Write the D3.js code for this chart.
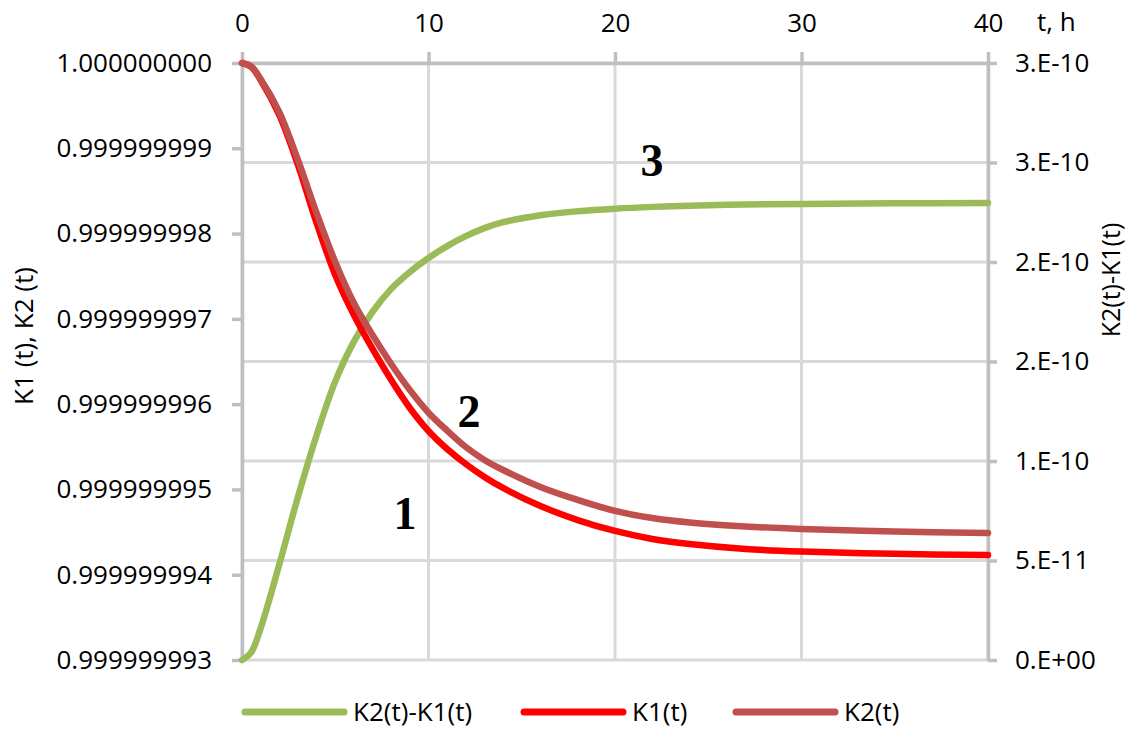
<!DOCTYPE html>
<html>
<head>
<meta charset="utf-8">
<script src="https://cdn.jsdelivr.net/npm/d3@7"></script>
<style>
  body { margin: 0; background: #fff; }
  svg text { font-family: "Open Sans", sans-serif; fill: #000; }
</style>
</head>
<body>
<svg id="chart" width="1129" height="731"></svg>
<script>
// time, h
const tValues = [0, 0.5, 1, 2, 3, 4, 5, 6, 7, 8, 9, 10, 11, 12, 13, 14, 16, 18, 20, 22, 24, 27, 30, 35, 40];
// K1(t) - curve 1
const k1Values = [
  1.000000000000, 0.999999999955, 0.999999999801, 0.999999999390, 0.999999998804, 0.999999998124,
  0.999999997514, 0.999999997045, 0.999999996647, 0.999999996283, 0.999999995955,
  0.999999995685, 0.999999995474, 0.999999995298, 0.999999995146, 0.999999995017,
  0.999999994806, 0.999999994641, 0.999999994513, 0.999999994419, 0.999999994360,
  0.999999994302, 0.999999994272, 0.999999994245, 0.999999994231
];
// K2(t) - curve 2
const k2Values = [
  1.000000000000, 0.999999999957, 0.999999999812, 0.999999999425, 0.999999998863, 0.999999998241,
  0.999999997667, 0.999999997186, 0.999999996811, 0.999999996471, 0.999999996165,
  0.999999995900, 0.999999995690, 0.999999995498, 0.999999995346, 0.999999995228,
  0.999999995029, 0.999999994877, 0.999999994748, 0.999999994665, 0.999999994613,
  0.999999994566, 0.999999994536, 0.999999994507, 0.999999994489
];
// K2(t)-K1(t) - curve 3, right axis
const diffValues = [
  0, 0.04e-10, 0.16e-10, 0.48e-10, 0.82e-10, 1.13e-10, 1.40e-10, 1.60e-10, 1.75e-10, 1.865e-10, 1.95e-10,
  2.02e-10, 2.08e-10, 2.13e-10, 2.17e-10, 2.20e-10, 2.235e-10, 2.255e-10, 2.268e-10, 2.277e-10,
  2.283e-10, 2.289e-10, 2.292e-10, 2.295e-10, 2.296e-10
];

const xTicks = [0, 10, 20, 30, 40];
const leftTicks = [0.999999993, 0.999999994, 0.999999995, 0.999999996, 0.999999997, 0.999999998, 0.999999999, 1.0];
const rightTicks = [0, 5e-11, 1e-10, 1.5e-10, 2e-10, 2.5e-10, 3e-10];
const rightTickLabels = ['0.E+00', '5.E-11', '1.E-10', '2.E-10', '2.E-10', '3.E-10', '3.E-10'];
const seriesNames = ['K2(t)-K1(t)', 'K1(t)', 'K2(t)'];
const seriesColors = ['#9bbb59', '#ff0000', '#c0504d'];

const svg = d3.select('#chart');
const margin = {top: 63, left: 242, right: 141, bottom: 71};
const width = 1129 - margin.left - margin.right;
const height = 731 - margin.top - margin.bottom;

const x = d3.scaleLinear().domain([0, 40]).range([0, width]);
const yLeft = d3.scaleLinear().domain([0.999999993, 1.0]).range([height, 0]);
const yRight = d3.scaleLinear().domain([0, 3e-10]).range([height, 0]);

const g = svg.append('g').attr('transform', 'translate(' + margin.left + ',' + margin.top + ')');

// grid
const grid = g.append('g');
grid.selectAll('.hgrid').data(rightTicks).enter().append('line')
  .attr('x1', 0).attr('x2', width)
  .attr('y1', d => yRight(d)).attr('y2', d => yRight(d))
  .attr('stroke', '#d9d9d9').attr('stroke-width', 3);
grid.selectAll('.vgrid').data(xTicks).enter().append('line')
  .attr('x1', d => x(d)).attr('x2', d => x(d))
  .attr('y1', 0).attr('y2', height)
  .attr('stroke', '#d9d9d9').attr('stroke-width', 3);

function styleAxis(sel) {
  sel.selectAll('path.domain').attr('stroke', '#bfbfbf').attr('stroke-width', 3.5);
  sel.selectAll('.tick line').attr('stroke', '#bfbfbf').attr('stroke-width', 3.5);
  sel.selectAll('.tick text').attr('font-size', 26).attr('font-family', '"Open Sans", sans-serif');
}

const axisTop = d3.axisTop(x).tickValues(xTicks).tickFormat(d3.format('d'))
  .tickSizeInner(11).tickSizeOuter(0).tickPadding(20);
g.append('g').call(axisTop).call(styleAxis);

const axisLeft = d3.axisLeft(yLeft).tickValues(leftTicks).tickFormat(d3.format('.9f'))
  .tickSizeInner(10).tickSizeOuter(0).tickPadding(20);
g.append('g').call(axisLeft).call(styleAxis);

const axisRight = d3.axisRight(yRight).tickValues(rightTicks)
  .tickFormat((d, i) => rightTickLabels[i])
  .tickSizeInner(9).tickSizeOuter(0).tickPadding(18);
g.append('g').attr('transform', 'translate(' + width + ',0)').call(axisRight).call(styleAxis);

// series
const smooth = d3.curveCatmullRom.alpha(0.5);
const lineLeft = d3.line().curve(smooth)
  .x((d, i) => x(tValues[i])).y(d => yLeft(d));
const lineRight = d3.line().curve(smooth)
  .x((d, i) => x(tValues[i])).y(d => yRight(d));

g.append('path').attr('d', lineRight(diffValues)).attr('fill', 'none')
  .attr('stroke', seriesColors[0]).attr('stroke-width', 6.5).attr('stroke-linecap', 'round');
g.append('path').attr('d', lineLeft(k1Values)).attr('fill', 'none')
  .attr('stroke', seriesColors[1]).attr('stroke-width', 6.5).attr('stroke-linecap', 'round');
g.append('path').attr('d', lineLeft(k2Values)).attr('fill', 'none')
  .attr('stroke', seriesColors[2]).attr('stroke-width', 6.5).attr('stroke-linecap', 'round');

// curve numbers
const curveMarks = [
  {text: '1', t: 8.74, k: 0.999999994536},
  {text: '2', t: 12.17, k: 0.999999995732},
  {text: '3', t: 21.98, k: 0.999999998675}
];
g.selectAll('.num').data(curveMarks).enter().append('text')
  .attr('x', d => x(d.t)).attr('y', d => yLeft(d.k))
  .attr('text-anchor', 'middle')
  .style('font-family', '"Liberation Serif", "Times New Roman", serif')
  .style('font-weight', 'bold').style('font-size', '46px')
  .text(d => d.text);

// axis titles
svg.append('text').attr('x', 1037).attr('y', 31).attr('font-size', 26).text('t, h');
svg.append('text').attr('transform', 'translate(33,336) rotate(-90)')
  .attr('text-anchor', 'middle').attr('font-size', 26).text('K1 (t), K2 (t)');
svg.append('text').attr('transform', 'translate(1120,280) rotate(-90)')
  .attr('text-anchor', 'middle').attr('font-size', 25).text('K2(t)-K1(t)');

// legend
const legendX = [242, 521, 733];
const legend = svg.append('g').attr('transform', 'translate(0,712)');
const items = legend.selectAll('g').data(seriesNames).enter().append('g')
  .attr('transform', (d, i) => 'translate(' + legendX[i] + ',0)');
items.append('line').attr('x1', 3).attr('x2', 102).attr('y1', 0).attr('y2', 0)
  .attr('stroke', (d, i) => seriesColors[i]).attr('stroke-width', 7).attr('stroke-linecap', 'round');
items.append('text').attr('x', 111).attr('y', 0).attr('dy', '0.35em')
  .attr('font-size', 26).text(d => d);
</script>
</body>
</html>
